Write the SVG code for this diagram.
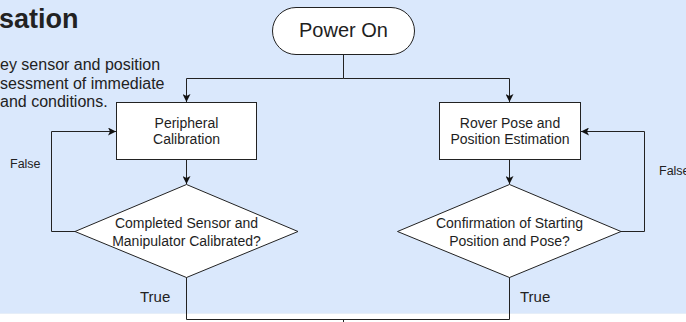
<svg xmlns="http://www.w3.org/2000/svg" width="686" height="322" viewBox="0 0 686 322">
  <defs>
    <marker id="arrow" viewBox="0 0 10 10" refX="10" refY="5" markerWidth="8" markerHeight="8" markerUnits="userSpaceOnUse" orient="auto">
      <path d="M0,0 L10,5 L0,10 L2.5,5 Z" fill="#111"/>
    </marker>
    <style>
      .shape { fill: #ffffff; stroke: #222; stroke-width: 1; }
      .edge { fill: none; stroke: #222; stroke-width: 1; }
      .lbl { font-family: "Liberation Sans", Arial, sans-serif; fill: #1e1e1e; text-anchor: middle; }
      .note { font-family: "Liberation Sans", Arial, sans-serif; fill: #222; }
    </style>
  </defs>

  <!-- container background -->
  <rect x="0" y="0" width="686" height="313" fill="#dae8fc"/>
  <rect x="0" y="313" width="686" height="9" fill="#ffffff"/>
  <line x1="0" y1="313.5" x2="686" y2="313.5" stroke="#e6eef8" stroke-width="1"/>

  <!-- heading and description -->
  <g id="heading">
    <text class="note" x="-1" y="28" font-size="27" font-weight="bold" fill="#111">sation</text>
    <text class="note" x="0" y="70" font-size="16">ey sensor and position</text>
    <text class="note" x="0" y="89" font-size="16">sessment of immediate</text>
    <text class="note" x="0" y="107" font-size="16">and conditions.</text>
  </g>

  <!-- connectors -->
  <g id="connectors">
    <path class="edge" d="M343.5,54 V78.5 H186.5 V102" marker-end="url(#arrow)"/>
    <path class="edge" d="M343.5,78.5 H509.5 V102" marker-end="url(#arrow)"/>
    <path class="edge" d="M186.5,160 V184" marker-end="url(#arrow)"/>
    <path class="edge" d="M509.5,160 V184" marker-end="url(#arrow)"/>
    <path class="edge" d="M75,231.5 H51.5 V131.5 H116" marker-end="url(#arrow)"/>
    <path class="edge" d="M621,231.5 H644.5 V131.5 H581" marker-end="url(#arrow)"/>
    <path class="edge" d="M186.5,277 V319.5 H509.5 V277"/>
    <path class="edge" d="M343.5,319.5 V330"/>
    <text class="note" x="10" y="168" font-size="12.5">False</text>
    <text class="note" x="659" y="175" font-size="12.5">False</text>
    <text class="note" x="140" y="302" font-size="15">True</text>
    <text class="note" x="520" y="302" font-size="15">True</text>
  </g>

  <g id="power-on">
    <rect class="shape" x="272.5" y="7.5" width="142" height="47" rx="23.5" ry="23.5"/>
    <text class="lbl" x="343.5" y="37" font-size="20">Power On</text>
  </g>

  <g id="peripheral-calibration">
    <rect class="shape" x="116.5" y="102.5" width="140" height="57"/>
    <text class="lbl" x="186.5" y="128" font-size="14">Peripheral</text>
    <text class="lbl" x="186.5" y="143.5" font-size="14">Calibration</text>
  </g>

  <g id="pose-estimation">
    <rect class="shape" x="439.5" y="102.5" width="141" height="57"/>
    <text class="lbl" x="510" y="128" font-size="14">Rover Pose and</text>
    <text class="lbl" x="510" y="143.5" font-size="14">Position Estimation</text>
  </g>

  <g id="calibration-check">
    <polygon class="shape" points="186.5,184.5 298,231.5 186.5,277.5 75,231.5"/>
    <text class="lbl" x="186.5" y="228" font-size="14">Completed Sensor and</text>
    <text class="lbl" x="186.5" y="245.5" font-size="14">Manipulator Calibrated?</text>
  </g>

  <g id="pose-check">
    <polygon class="shape" points="509.5,184.5 621,231.5 509.5,277.5 397.5,231.5"/>
    <text class="lbl" x="509.5" y="228" font-size="14">Confirmation of Starting</text>
    <text class="lbl" x="509.5" y="245.5" font-size="14">Position and Pose?</text>
  </g>
</svg>
